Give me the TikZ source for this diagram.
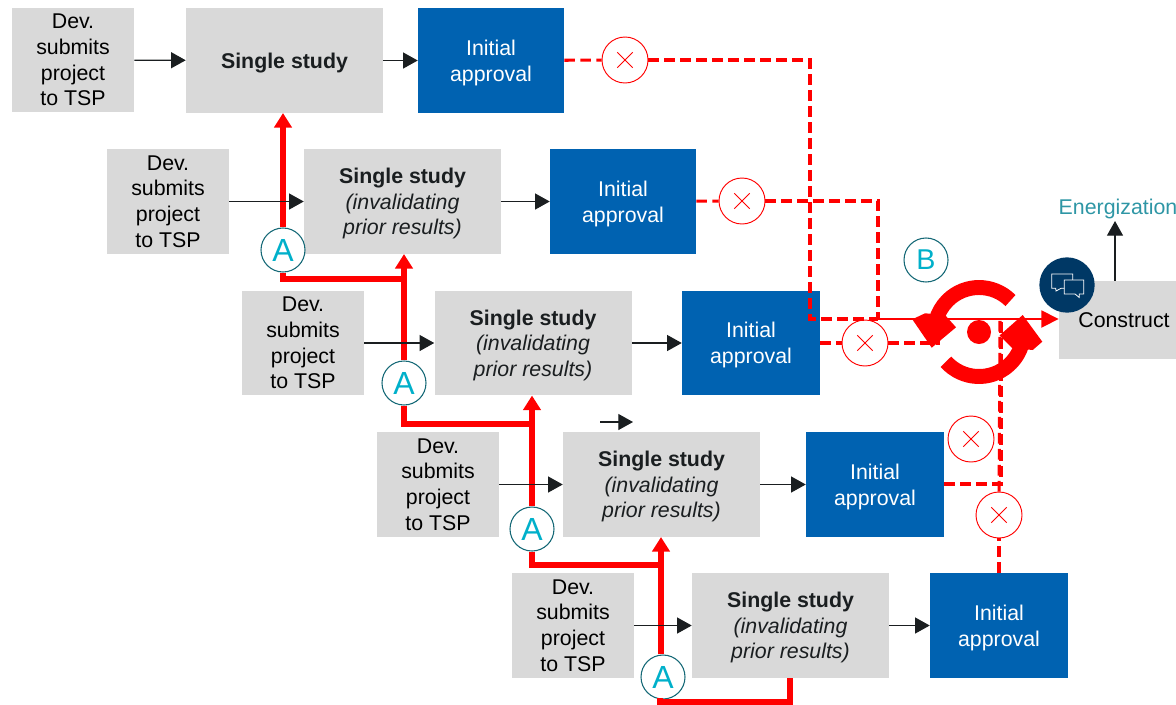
\documentclass[tikz,border=0pt]{standalone}
\usepackage{fontspec}
\setmainfont{Liberation Sans}
\usetikzlibrary{arrows.meta}
\definecolor{boxgray}{RGB}{217, 217, 217}
\definecolor{appblue}{RGB}{0, 98, 177}
\definecolor{alarmred}{RGB}{255, 0, 0}
\definecolor{ringteal}{RGB}{20, 104, 118}
\definecolor{lettercyan}{RGB}{0, 176, 202}
\definecolor{energteal}{RGB}{46, 150, 165}
\definecolor{badgenavy}{RGB}{0, 56, 101}
\definecolor{inkblack}{RGB}{26, 30, 32}
\tikzset{
    basebox/.style={rectangle, inner sep=0pt, minimum height=78.4pt, align=center,
        text depth=0pt, font=\fontsize{16}{19.3}\selectfont},
    devbox/.style={basebox, fill=boxgray, minimum width=91.5pt, text=black},
    studybox/.style={basebox, fill=boxgray, minimum width=147.75pt, text=inkblack},
    approvalbox/.style={basebox, fill=appblue, minimum width=103.5pt, text=white},
    tagring/.style={circle, draw=ringteal, fill=white, line width=0.8pt, inner sep=0pt,
        minimum size=33pt, text=lettercyan, font=\fontsize{24}{26}\selectfont},
    crossring/.style={circle, draw=alarmred, fill=white, line width=0.7pt, inner sep=0pt,
        minimum size=34.5pt, path picture={
            \draw[alarmred, line width=0.7pt]
                ([xshift=-5.8pt,yshift=-5.8pt]path picture bounding box.center) --
                ([xshift=5.8pt,yshift=5.8pt]path picture bounding box.center)
                ([xshift=-5.8pt,yshift=5.8pt]path picture bounding box.center) --
                ([xshift=5.8pt,yshift=-5.8pt]path picture bounding box.center);}},
    flow/.style={draw=inkblack, line width=0.9pt, -{Triangle[length=11pt, width=12pt]}},
    redroute/.style={draw=alarmred, line width=4.5pt},
    redrise/.style={redroute, -{Triangle[length=11pt, width=13pt]}},
    reddash/.style={draw=alarmred, line width=2.3pt, dash pattern=on 8pt off 4pt},
}

\begin{document}
\begin{tikzpicture}[x=0.75pt, y=-0.75pt]
    \path[use as bounding box, clip] (0,0) rectangle (1176,704);

    % boxes
    \node[devbox] (dev1) at (73,60) {Dev.\\submits\\project\\to TSP};
    \node[studybox] (study1) at (284.5,60.5) {\textbf{Single study}};
    \node[approvalbox, minimum width=109.5pt] (app1) at (491,60.5) {Initial\\approval};

    \node[devbox] (dev2) at (168,201.5) {Dev.\\submits\\project\\to TSP};
    \node[studybox] (study2) at (402.5,201.5) {\textbf{Single study}\\\textit{(invalidating}\\\textit{prior results)}};
    \node[approvalbox, minimum width=109.5pt] (app2) at (623,201.5) {Initial\\approval};

    \node[devbox] (dev3) at (303,343) {Dev.\\submits\\project\\to TSP};
    \node[studybox] (study3) at (533,343) {\textbf{Single study}\\\textit{(invalidating}\\\textit{prior results)}};
    \node[approvalbox] (app3) at (751,343) {Initial\\approval};

    \node[devbox] (dev4) at (438,484.5) {Dev.\\submits\\project\\to TSP};
    \node[studybox] (study4) at (661.5,484.5) {\textbf{Single study}\\\textit{(invalidating}\\\textit{prior results)}};
    \node[approvalbox] (app4) at (875,484.5) {Initial\\approval};

    \node[devbox] (dev5) at (573,625.5) {Dev.\\submits\\project\\to TSP};
    \node[studybox] (study5) at (790.5,625.5) {\textbf{Single study}\\\textit{(invalidating}\\\textit{prior results)}};
    \node[approvalbox] (app5) at (999,625.5) {Initial\\approval};

    \node[basebox, fill=boxgray, minimum width=97.5pt, minimum height=58.5pt] (construct) at (1124,320) {Construct};
    \node[text=energteal, font=\fontsize{16}{18}\selectfont, inner sep=0pt] (energ) at (1118,208.5) {Energization};

    % tags
    \node[tagring] (a2) at (283,250) {A};
    \node[tagring] (a3) at (404,383) {A};
    \node[tagring] (a4) at (532,529) {A};
    \node[tagring] (a5) at (663,677) {A};
    \node[tagring, font=\fontsize{21.5}{24}\selectfont] (b) at (926,260) {B};

    \node[crossring] (x1) at (625,60) {};
    \node[crossring] (x2) at (742,201) {};
    \node[crossring] (x3) at (865,343) {};
    \node[crossring] (x4) at (971,439) {};
    \node[crossring] (x5) at (999,515) {};

    \coordinate (c1) at (810,319);
    \coordinate (c2) at (878,319);
    \coordinate (c3) at (940,343);
    \coordinate (c4) at (1001,484);
    \coordinate (c5) at (1000,319);
    \coordinate (e1) at (1115,221);

    % cancelled approvals
    \draw[reddash] (app1) -- (x1);
    \draw[reddash] (x1) -| (c1) -- (c2);
    \draw[reddash] (app2) -- (x2);
    \draw[reddash] (x2) -| (c2);
    \draw[reddash] (app3) -- (x3);
    \draw[reddash] (x3) -- (c3);
    \draw[reddash] (app4.east |- c4) -- (c4) -- (c4 |- c5);
    \draw[reddash] (app5) -- (x5);
    \draw[reddash] (x5) -- (c5);
    \draw[alarmred, line width=2.2pt, -{Triangle[length=13pt, width=12.5pt]}] (c2) -- (construct.west |- c2);

    % restart symbol
    \draw[alarmred, line width=11.2pt] (979,332) ++(-45:44.5) arc[start angle=-45, end angle=-165, radius=44.5];
    \draw[alarmred, line width=11.2pt] (979,332) ++(-222:44.5) arc[start angle=-222, end angle=-345, radius=44.5];
    \fill[alarmred] (912.3,319.3) -- (925,313.3) -- (945,315) -- (956,327.3) -- (931.7,347.7) -- cycle;
    \fill[alarmred] (999.5,335.5) -- (1022.7,315) -- (1042.3,341.7) -- (1032.7,350) -- (1012,348) -- cycle;
    \fill[alarmred] (979,332) circle[radius=12];

    % restarted studies
    \draw[redrise] (a2) -- (a2 |- study1.south);
    \draw[redroute] (a2) |- (404,279);
    \draw[redrise] (a3) -- (a3 |- study2.south);
    \draw[redroute] (a3) |- (532,424);
    \draw[redrise] (a4) -- (a4 |- study3.south);
    \draw[redroute] (a4) |- (661,565);
    \draw[redrise] (a5.north -| 661,0) -- (661,537);
    \draw[redroute] (790,678) |- (660,702) -- (660,698);

    % regular flow
    \draw[flow] (dev1) -- (study1);
    \draw[flow] (study1) -- (app1);
    \draw[flow] (dev2) -- (study2);
    \draw[flow] (study2) -- (app2);
    \draw[flow] (dev3) -- (study3);
    \draw[flow] (study3) -- (app3);
    \draw[flow] (dev4) -- (study4);
    \draw[flow] (study4) -- (app4);
    \draw[flow] (dev5) -- (study5);
    \draw[flow] (study5) -- (app5);
    \draw[flow] (construct.north -| e1) -- (e1);
    \coordinate (s1) at (600,422);
    \coordinate (s2) at (633,422);
    \draw[flow] (s1) -- (s2);

    % chat badge
    \node[circle, fill=badgenavy, minimum size=41.5pt, inner sep=0pt] (chat) at (1067,285) {};
    \draw[white, line width=0.6pt, fill=badgenavy] (1051.7,274) -- (1072.7,274) -- (1072.7,288.3) -- (1061,288.3) -- (1056,291) -- (1055.7,288.3) -- (1051.7,288.3) -- cycle;
    \draw[white, line width=0.6pt, fill=badgenavy] (1064.3,280) -- (1083.7,280) -- (1083.7,294) -- (1079.3,294) -- (1079.3,297.5) -- (1075,294) -- (1064.3,294) -- cycle;
\end{tikzpicture}
\end{document}
